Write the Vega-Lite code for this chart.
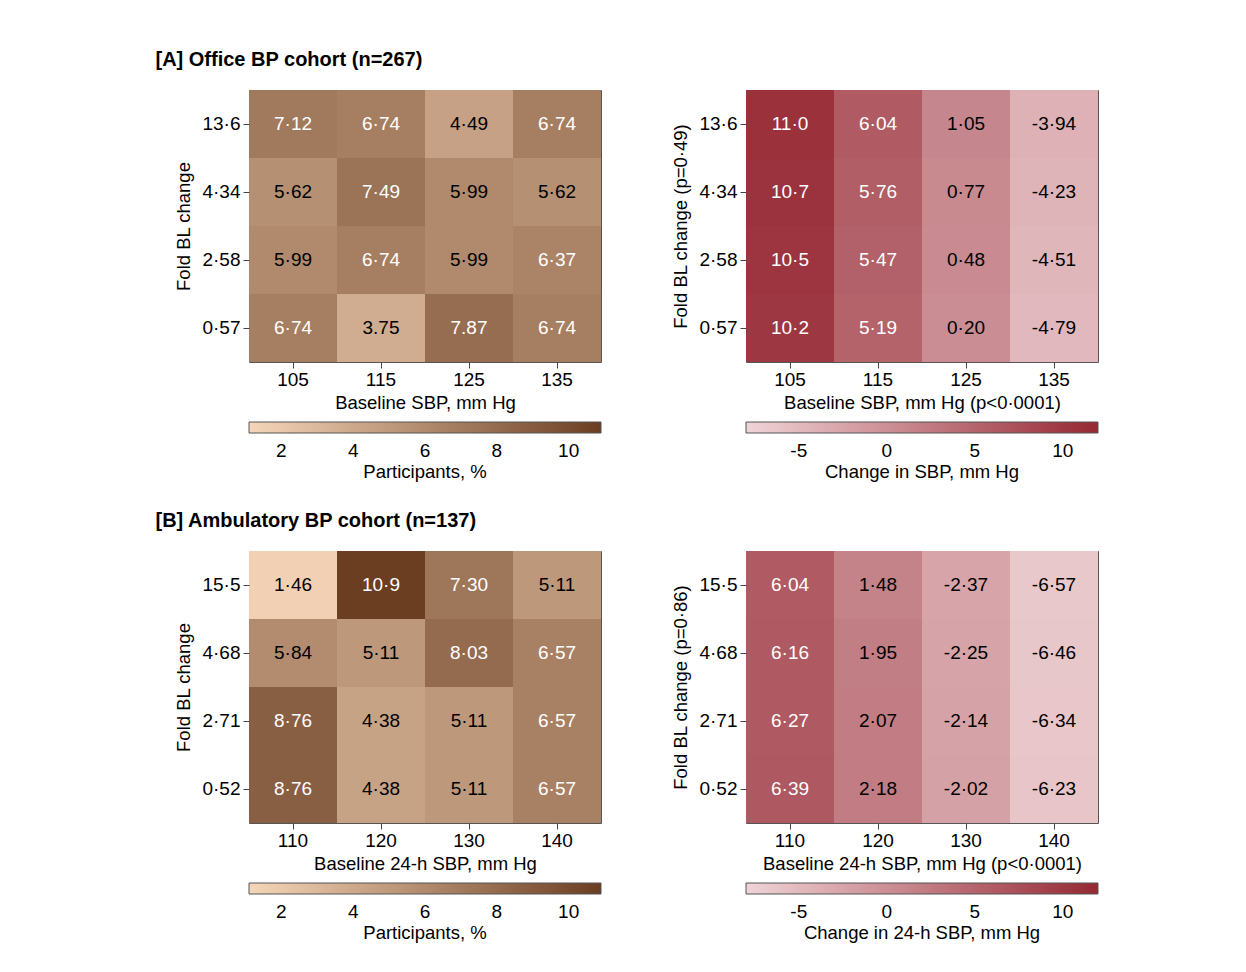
{
  "$schema": "https://vega.github.io/schema/vega-lite/v6.json",
  "background": "white",
  "padding": {"left": 155, "top": 49, "right": 10, "bottom": 10},
  "datasets": {
    "aleft": [
      {"sbp": "105", "fold": "13·6", "pct": 7.12, "label": "7·12"},
      {"sbp": "115", "fold": "13·6", "pct": 6.74, "label": "6·74"},
      {"sbp": "125", "fold": "13·6", "pct": 4.49, "label": "4·49"},
      {"sbp": "135", "fold": "13·6", "pct": 6.74, "label": "6·74"},
      {"sbp": "105", "fold": "4·34", "pct": 5.62, "label": "5·62"},
      {"sbp": "115", "fold": "4·34", "pct": 7.49, "label": "7·49"},
      {"sbp": "125", "fold": "4·34", "pct": 5.99, "label": "5·99"},
      {"sbp": "135", "fold": "4·34", "pct": 5.62, "label": "5·62"},
      {"sbp": "105", "fold": "2·58", "pct": 5.99, "label": "5·99"},
      {"sbp": "115", "fold": "2·58", "pct": 6.74, "label": "6·74"},
      {"sbp": "125", "fold": "2·58", "pct": 5.99, "label": "5·99"},
      {"sbp": "135", "fold": "2·58", "pct": 6.37, "label": "6·37"},
      {"sbp": "105", "fold": "0·57", "pct": 6.74, "label": "6·74"},
      {"sbp": "115", "fold": "0·57", "pct": 3.75, "label": "3.75"},
      {"sbp": "125", "fold": "0·57", "pct": 7.87, "label": "7.87"},
      {"sbp": "135", "fold": "0·57", "pct": 6.74, "label": "6·74"}
    ],
    "aright": [
      {"sbp": "105", "fold": "13·6", "chg": 11.0, "label": "11·0"},
      {"sbp": "115", "fold": "13·6", "chg": 6.04, "label": "6·04"},
      {"sbp": "125", "fold": "13·6", "chg": 1.05, "label": "1·05"},
      {"sbp": "135", "fold": "13·6", "chg": -3.94, "label": "-3·94"},
      {"sbp": "105", "fold": "4·34", "chg": 10.7, "label": "10·7"},
      {"sbp": "115", "fold": "4·34", "chg": 5.76, "label": "5·76"},
      {"sbp": "125", "fold": "4·34", "chg": 0.77, "label": "0·77"},
      {"sbp": "135", "fold": "4·34", "chg": -4.23, "label": "-4·23"},
      {"sbp": "105", "fold": "2·58", "chg": 10.5, "label": "10·5"},
      {"sbp": "115", "fold": "2·58", "chg": 5.47, "label": "5·47"},
      {"sbp": "125", "fold": "2·58", "chg": 0.48, "label": "0·48"},
      {"sbp": "135", "fold": "2·58", "chg": -4.51, "label": "-4·51"},
      {"sbp": "105", "fold": "0·57", "chg": 10.2, "label": "10·2"},
      {"sbp": "115", "fold": "0·57", "chg": 5.19, "label": "5·19"},
      {"sbp": "125", "fold": "0·57", "chg": 0.20, "label": "0·20"},
      {"sbp": "135", "fold": "0·57", "chg": -4.79, "label": "-4·79"}
    ],
    "bleft": [
      {"sbp": "110", "fold": "15·5", "pct": 1.46, "label": "1·46"},
      {"sbp": "120", "fold": "15·5", "pct": 10.9, "label": "10·9"},
      {"sbp": "130", "fold": "15·5", "pct": 7.30, "label": "7·30"},
      {"sbp": "140", "fold": "15·5", "pct": 5.11, "label": "5·11"},
      {"sbp": "110", "fold": "4·68", "pct": 5.84, "label": "5·84"},
      {"sbp": "120", "fold": "4·68", "pct": 5.11, "label": "5·11"},
      {"sbp": "130", "fold": "4·68", "pct": 8.03, "label": "8·03"},
      {"sbp": "140", "fold": "4·68", "pct": 6.57, "label": "6·57"},
      {"sbp": "110", "fold": "2·71", "pct": 8.76, "label": "8·76"},
      {"sbp": "120", "fold": "2·71", "pct": 4.38, "label": "4·38"},
      {"sbp": "130", "fold": "2·71", "pct": 5.11, "label": "5·11"},
      {"sbp": "140", "fold": "2·71", "pct": 6.57, "label": "6·57"},
      {"sbp": "110", "fold": "0·52", "pct": 8.76, "label": "8·76"},
      {"sbp": "120", "fold": "0·52", "pct": 4.38, "label": "4·38"},
      {"sbp": "130", "fold": "0·52", "pct": 5.11, "label": "5·11"},
      {"sbp": "140", "fold": "0·52", "pct": 6.57, "label": "6·57"}
    ],
    "bright": [
      {"sbp": "110", "fold": "15·5", "chg": 6.04, "label": "6·04"},
      {"sbp": "120", "fold": "15·5", "chg": 1.48, "label": "1·48"},
      {"sbp": "130", "fold": "15·5", "chg": -2.37, "label": "-2·37"},
      {"sbp": "140", "fold": "15·5", "chg": -6.57, "label": "-6·57"},
      {"sbp": "110", "fold": "4·68", "chg": 6.16, "label": "6·16"},
      {"sbp": "120", "fold": "4·68", "chg": 1.95, "label": "1·95"},
      {"sbp": "130", "fold": "4·68", "chg": -2.25, "label": "-2·25"},
      {"sbp": "140", "fold": "4·68", "chg": -6.46, "label": "-6·46"},
      {"sbp": "110", "fold": "2·71", "chg": 6.27, "label": "6·27"},
      {"sbp": "120", "fold": "2·71", "chg": 2.07, "label": "2·07"},
      {"sbp": "130", "fold": "2·71", "chg": -2.14, "label": "-2·14"},
      {"sbp": "140", "fold": "2·71", "chg": -6.34, "label": "-6·34"},
      {"sbp": "110", "fold": "0·52", "chg": 6.39, "label": "6·39"},
      {"sbp": "120", "fold": "0·52", "chg": 2.18, "label": "2·18"},
      {"sbp": "130", "fold": "0·52", "chg": -2.02, "label": "-2·02"},
      {"sbp": "140", "fold": "0·52", "chg": -6.23, "label": "-6·23"}
    ]
  },
  "vconcat": [
    {
      "title": {"text": "[A] Office BP cohort (n=267)", "anchor": "start", "dx": -19, "offset": 20},
      "spacing": 68,
      "resolve": {"scale": {"color": "independent", "x": "independent", "y": "independent"}, "legend": {"color": "independent"}},
      "hconcat": [
        {
          "data": {"name": "aleft"},
          "width": 352, "height": 272,
          "encoding": {
            "x": {"field": "sbp", "type": "ordinal", "title": "Baseline SBP, mm Hg", "scale": {"paddingInner": 0, "paddingOuter": 0}},
            "y": {"field": "fold", "type": "ordinal", "sort": ["13·6", "4·34", "2·58", "0·57"], "title": "Fold BL change", "scale": {"paddingInner": 0, "paddingOuter": 0}}
          },
          "layer": [
            {"mark": {"type": "rect"}, "encoding": {"color": {"field": "pct", "type": "quantitative", "title": "Participants, %", "scale": {"domain": [1.1, 10.9], "range": ["#f6d6b9", "#6b3e22"], "interpolate": "rgb"}, "legend": {"values": [2, 4, 6, 8, 10], "labelExpr": "'' + datum.value"}}}},
            {"mark": {"type": "text", "fontSize": 19}, "encoding": {"text": {"field": "label"}, "color": {"condition": {"test": "datum.pct > 6.2", "value": "white"}, "value": "black"}}}
          ]
        },
        {
          "data": {"name": "aright"},
          "width": 352, "height": 272,
          "encoding": {
            "x": {"field": "sbp", "type": "ordinal", "title": "Baseline SBP, mm Hg (p<0·0001)", "scale": {"paddingInner": 0, "paddingOuter": 0}},
            "y": {"field": "fold", "type": "ordinal", "sort": ["13·6", "4·34", "2·58", "0·57"], "title": "Fold BL change (p=0·49)", "scale": {"paddingInner": 0, "paddingOuter": 0}}
          },
          "layer": [
            {"mark": {"type": "rect"}, "encoding": {"color": {"field": "chg", "type": "quantitative", "title": "Change in SBP, mm Hg", "scale": {"domain": [-8, 12], "range": ["#efd4d7", "#952833"], "interpolate": "rgb"}, "legend": {"values": [-5, 0, 5, 10], "labelExpr": "'' + datum.value"}}}},
            {"mark": {"type": "text", "fontSize": 19}, "encoding": {"text": {"field": "label"}, "color": {"condition": {"test": "datum.chg > 4", "value": "white"}, "value": "black"}}}
          ]
        }
      ]
    },
    {
      "title": {"text": "[B] Ambulatory BP cohort (n=137)", "anchor": "start", "dx": -19, "offset": 20},
      "spacing": 68,
      "resolve": {"scale": {"color": "independent", "x": "independent", "y": "independent"}, "legend": {"color": "independent"}},
      "hconcat": [
        {
          "data": {"name": "bleft"},
          "width": 352, "height": 272,
          "encoding": {
            "x": {"field": "sbp", "type": "ordinal", "title": "Baseline 24-h SBP, mm Hg", "scale": {"paddingInner": 0, "paddingOuter": 0}},
            "y": {"field": "fold", "type": "ordinal", "sort": ["15·5", "4·68", "2·71", "0·52"], "title": "Fold BL change", "scale": {"paddingInner": 0, "paddingOuter": 0}}
          },
          "layer": [
            {"mark": {"type": "rect"}, "encoding": {"color": {"field": "pct", "type": "quantitative", "title": "Participants, %", "scale": {"domain": [1.1, 10.9], "range": ["#f6d6b9", "#6b3e22"], "interpolate": "rgb"}, "legend": {"values": [2, 4, 6, 8, 10], "labelExpr": "'' + datum.value"}}}},
            {"mark": {"type": "text", "fontSize": 19}, "encoding": {"text": {"field": "label"}, "color": {"condition": {"test": "datum.pct > 6.2", "value": "white"}, "value": "black"}}}
          ]
        },
        {
          "data": {"name": "bright"},
          "width": 352, "height": 272,
          "encoding": {
            "x": {"field": "sbp", "type": "ordinal", "title": "Baseline 24-h SBP, mm Hg (p<0·0001)", "scale": {"paddingInner": 0, "paddingOuter": 0}},
            "y": {"field": "fold", "type": "ordinal", "sort": ["15·5", "4·68", "2·71", "0·52"], "title": "Fold BL change (p=0·86)", "scale": {"paddingInner": 0, "paddingOuter": 0}}
          },
          "layer": [
            {"mark": {"type": "rect"}, "encoding": {"color": {"field": "chg", "type": "quantitative", "title": "Change in 24-h SBP, mm Hg", "scale": {"domain": [-8, 12], "range": ["#efd4d7", "#952833"], "interpolate": "rgb"}, "legend": {"values": [-5, 0, 5, 10], "labelExpr": "'' + datum.value"}}}},
            {"mark": {"type": "text", "fontSize": 19}, "encoding": {"text": {"field": "label"}, "color": {"condition": {"test": "datum.chg > 4", "value": "white"}, "value": "black"}}}
          ]
        }
      ]
    }
  ],
  "spacing": 27,
  "resolve": {"scale": {"color": "independent", "x": "independent", "y": "independent"}, "legend": {"color": "independent"}},
  "config": {
    "font": "Liberation Sans",
    "view": {"stroke": "#555555", "strokeWidth": 1},
    "title": {"fontSize": 20, "fontWeight": "bold", "color": "black"},
    "axis": {"labelFontSize": 19, "titleFontSize": 18.5, "titleFontWeight": "normal", "labelColor": "black", "titleColor": "black", "tickColor": "#444444", "tickSize": 6, "domain": false, "grid": false, "labelAngle": 0, "labelPadding": 2, "titlePadding": 4},
    "axisY": {"titlePadding": 8, "labelPadding": 3},
    "legend": {"orient": "bottom", "direction": "horizontal", "gradientLength": 352, "gradientThickness": 11, "gradientStrokeColor": "#555555", "gradientStrokeWidth": 1, "titleOrient": "bottom", "titleAnchor": "middle", "titleLimit": 600, "labelFontSize": 19, "titleFontSize": 18.5, "titleFontWeight": "normal", "labelColor": "black", "titleColor": "black", "offset": 10, "gradientLabelOffset": 9, "titlePadding": 2}
  }
}
